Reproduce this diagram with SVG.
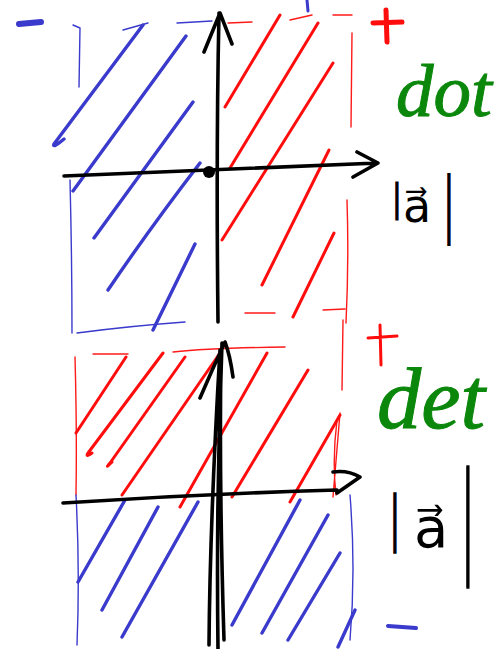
<svg xmlns="http://www.w3.org/2000/svg" width="498" height="649" viewBox="0 0 498 649">
<style>
path{fill:none;stroke-linecap:round;stroke-linejoin:round}
.bb{stroke:#3a3acc;stroke-width:1.4}
.rb{stroke:#ff1a1a;stroke-width:1.4}
.bh{stroke:#3a3acc;stroke-width:3.4}
.rh{stroke:#ff0d0d;stroke-width:3}
.ax{stroke:#000;stroke-width:3.6}
.word{font-family:"Liberation Serif",serif;font-style:italic;fill:#0b870b;stroke:#0b870b;stroke-width:1}
.bar{font-family:"Liberation Sans",sans-serif;font-size:30px;fill:#000;stroke:#000;stroke-width:0.8}
.vec{font-family:"Liberation Sans","DejaVu Sans",sans-serif;fill:#000}
</style>
<rect width="498" height="649" fill="#fff"/>
<g id="top-panel">
  <g id="top-blue-region">
    <path class="bb" d="M73,25 L80,28 L79,87 M70,180 Q72,260 72,333 M123,30 L148,23 M177,23 L212,21 M77,333 Q130,326 185,322"/>
    <path class="bh" d="M143,25 L54,144 Q52,149 64,139 M186,36 L73,191 M193,102 L94,238 M200,163 Q150,228 108,290 M195,244 L153,330"/>
    <path class="bh" style="stroke-width:6" d="M19,24 L41,22"/>
    <path class="bh" style="stroke-width:3" d="M307,0 L308,11"/>
  </g>
  <g id="top-red-region">
    <path class="rb" d="M228,23 L252,22 M290,20 L312,15 M333,15 L352,15 M352,33 L351,127 M347,200 Q349,260 346,323 M245,313 L275,313 M323,310 L345,309"/>
    <path class="rh" d="M280,15 L225,107 M318,23 L230,168 M333,63 L222,240 M329,150 L262,285 M334,233 L293,317"/>
    <path class="rh" style="stroke-width:5" d="M386,10 L387,42 M373,23 L402,22"/>
  </g>
  <g id="top-axes">
    <path class="ax" d="M64,176 Q200,170 378,163 M357,152 L378,163 L353,177"/>
    <path class="ax" d="M218,322 Q216,150 219,13 M204,52 L220,13 L232,44"/>
    <circle cx="209" cy="172" r="6" fill="#000"/>
  </g>
  <g id="top-labels">
    <text class="word" x="396" y="116" font-size="75">dot</text>
    <text class="bar" transform="translate(393,211.5) scale(1,1.35)">|</text>
    <text class="vec" x="403" y="222" font-size="46">a&#x20D7;</text>
    <text class="bar" transform="translate(445,229) scale(1,2.55)">|</text>
  </g>
</g>
<g id="bottom-panel">
  <g id="bottom-red-region">
    <path class="rb" d="M93,354 L128,354 M173,352 Q210,348 285,347 M75,357 Q77,430 76,495 M343,320 L342,390 M340,413 L333,497 M337,420 Q332,460 336,495"/>
    <path class="rh" d="M126,357 L76,433 M163,353 L88,453 Q85,458 92,453 M185,357 L110,463 Q104,470 112,462 M220,353 L122,495 M267,353 L180,507 M308,370 L232,497 M340,415 L290,502"/>
    <path class="rh" d="M380,325 L381,365 M368,338 L397,336"/>
  </g>
  <g id="bottom-blue-region">
    <path class="bb" d="M76,495 Q80,570 77,645 M350,495 Q356,570 350,640"/>
    <path class="bh" d="M125,500 L78,582 M158,507 L102,610 M198,502 L122,637 M300,500 L232,625 M328,515 L262,633 M340,553 L288,640 M355,610 L338,647"/>
    <path class="bh" style="stroke-width:4" d="M388,626 L416,628"/>
  </g>
  <g id="bottom-axes">
    <path class="ax" d="M63,503 Q200,494 337,490 M333,472 Q348,470 360,477 L337,493"/>
    <path class="ax" d="M218,649 Q216,500 222,343 M209,645 Q210,520 220,350 M224,640 Q219,480 221,360 M200,398 Q212,370 225,342 Q230,355 233,377"/>
  </g>
  <g id="bottom-labels">
    <text class="word" x="377" y="428" font-size="86" textLength="108" lengthAdjust="spacingAndGlyphs">det</text>
    <text class="bar" transform="translate(391,539.6) scale(1,2.13)">|</text>
    <text class="vec" x="414" y="547" font-size="56">a&#x20D7;</text>
    <text class="bar" transform="translate(464,560) scale(1,4.26)">|</text>
  </g>
</g>
</svg>
